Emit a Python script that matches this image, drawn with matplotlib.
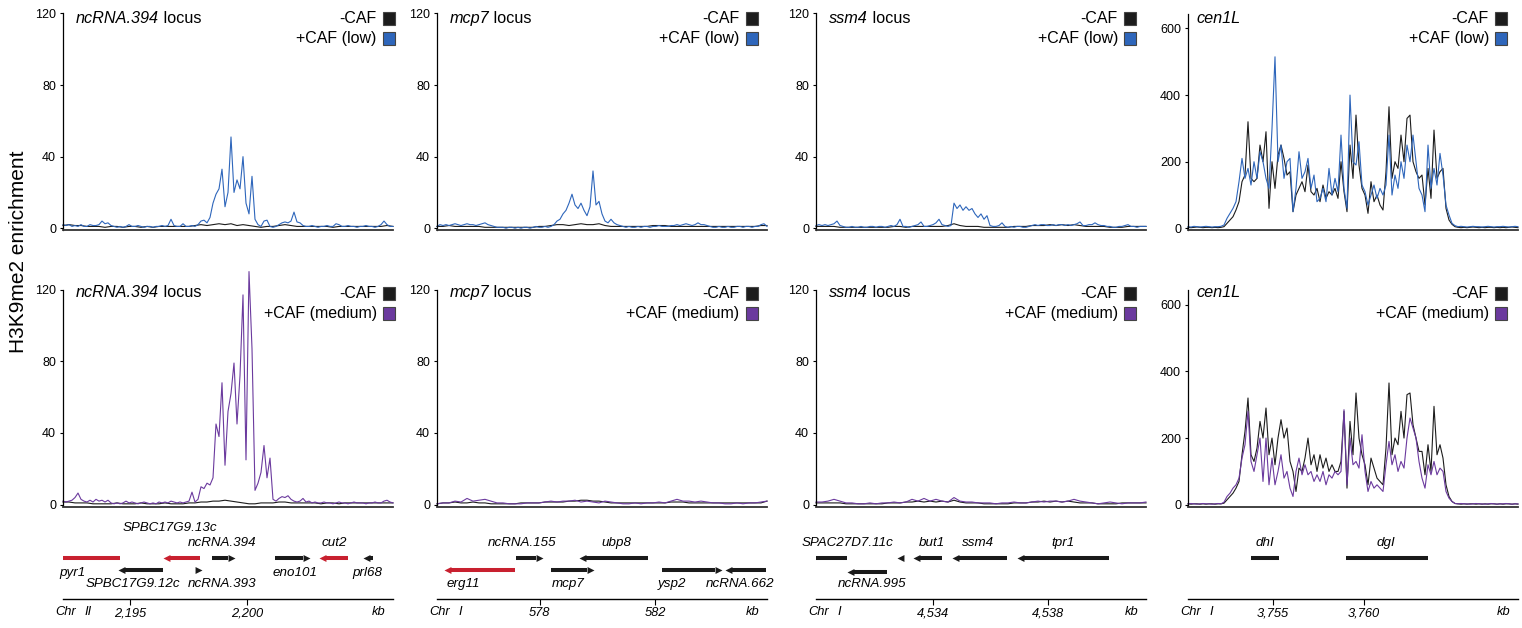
import numpy as np
from matplotlib import pyplot as plt
from matplotlib.patches import Rectangle

plt.rcParams['font.family'] = ['Liberation Sans', 'DejaVu Sans']

# genomic windows shown in each column (kb)
locus_names = ['ncRNA.394', 'mcp7', 'ssm4', 'cen1L']
chromosomes = ['II', 'I', 'I', 'I']
window_start = [2192.15, 574.45, 4529.92, 3750.36]
window_end = [2206.21, 585.86, 4541.40, 3768.46]
kb_ticks = [[2195, 2200], [578, 582], [4534, 4538], [3755, 3760]]
kb_tick_labels = [['2,195', '2,200'], ['578', '582'], ['4,534', '4,538'], ['3,755', '3,760']]
conditions = ['+CAF (low)', '+CAF (medium)']

# H3K9me2 enrichment, samples evenly spaced across each window
# --- top row: -CAF vs +CAF (low)
ctrl_low_ncrna394 = [1.5, 2, 1.5, 1.5, 1, 1, 1, 0.5, 1, 1,
                     0.5, 1, 1, 0.5, 1, 0.5, 1, 1, 1, 1,
                     1, 1, 1.5, 2, 1.5, 2, 2.5, 2, 2.5, 1.5,
                     2, 1.5, 1, 0.5, 1, 1, 1.5, 2, 1.5, 1,
                     1, 1, 1, 1, 1, 0.5, 1, 1, 1, 1,
                     1, 1, 1, 1, 1.5, 1]
low_ncrna394 = [2, 1.5, 2, 1, 1.5, 1, 2, 1, 1, 2,
                1.5, 1.5, 2, 4, 2.5, 3, 1.5, 1, 0.5, 1,
                0.5, 1, 2, 1, 1, 1.5, 1, 0.5, 1, 1,
                0.5, 1, 1, 1.5, 1, 1.5, 5, 1.5, 1, 1,
                2.5, 1, 1, 1.5, 1, 2, 4, 4.5, 3, 6,
                14, 19, 22, 33, 12, 20, 51, 20, 27, 22,
                40, 14, 8, 29, 5, 2, 1, 4, 4.5, 1,
                0.5, 1, 2, 3, 3.5, 3, 4, 9, 3.5, 3,
                1.5, 1, 1, 1.5, 1, 0.5, 1, 1, 1.5, 1,
                1, 2.5, 2, 1, 1, 1.5, 1, 1, 0.5, 1,
                1, 1.5, 1, 1, 0.5, 1, 2, 4, 2, 1, 1]
ctrl_low_mcp7 = [1, 1, 1.5, 1, 1, 1, 1, 1, 0.5, 0.5,
                 0.5, 0.5, 0.5, 0.5, 0.5, 0.5, 0.5, 1, 1, 1.5,
                 2, 2, 1.5, 2, 2.5, 2, 2, 2.5, 1.5, 1,
                 1, 1, 1, 1, 1, 1, 1.5, 1.5, 1.5, 1,
                 1, 1, 1, 1, 1, 1, 1, 1, 1, 1,
                 1, 1, 1, 1, 1.5, 1.5]
low_mcp7 = [1, 2, 1.5, 2, 1.5, 2, 2.5, 2, 1.5, 2,
            2.5, 2, 2, 1.5, 2, 2.5, 3, 2, 1.5, 1,
            0.5, 0.5, 0.5, 0, 0.5, 0.5, 0, 0.5, 0, 0.5,
            0.5, 0, 0.5, 1, 0.5, 0.5, 1, 0.5, 1, 2,
            4, 5, 8, 10, 14, 19, 13, 11, 14, 10,
            7, 12, 32, 13, 15, 8, 4, 3, 5, 3,
            2, 1.5, 1, 0.5, 1, 0.5, 0.5, 1, 0.5, 1,
            1, 0.5, 1, 1, 1.5, 1, 1, 1, 1.5, 1.5,
            2, 1.5, 2, 2.5, 2, 1.5, 2, 3, 2, 2,
            1.5, 1, 0.5, 0.5, 1, 0.5, 0.5, 1, 0.5, 0.5,
            1, 1, 0.5, 1, 1, 0.5, 1, 1, 2, 2.5, 1]
ctrl_low_ssm4 = [1, 1, 1, 1, 0.5, 0.5, 0.5, 0.5, 0.5, 0.5,
                 0.5, 0.5, 0.5, 1, 1, 0.5, 1, 1, 1, 1,
                 1, 1, 1.5, 2.5, 1.5, 1, 1, 1, 0.5, 0.5,
                 0.5, 0.5, 0.5, 1, 1, 1, 1.5, 1.5, 1.5, 2,
                 1.5, 2, 1.5, 2, 1.5, 1, 1, 1, 1, 0.5,
                 0.5, 0.5, 1, 1, 1, 1]
low_ssm4 = [1.5, 2, 1.5, 2, 1.5, 2, 2.5, 4, 1.5, 1,
            0.5, 0.5, 1, 0.5, 0.5, 1, 0.5, 0.5, 1, 1,
            0.5, 1, 1, 0.5, 1, 1.5, 1, 2, 5, 1,
            1, 0.5, 1, 1.5, 2, 3.5, 1, 1, 1.5, 2,
            3, 5, 2, 1.5, 1, 1.5, 14, 11, 13, 10,
            12, 10, 11, 8, 6, 8, 5, 7, 1.5, 1,
            1, 1.5, 3, 1, 0.5, 1, 0.5, 1, 1, 0.5,
            0.5, 1, 1.5, 2, 1.5, 2, 2, 1.5, 1.5, 2,
            1.5, 2, 2, 1.5, 2, 1.5, 2, 2.5, 3.5, 1.5,
            1.5, 2, 2, 3, 2, 1.5, 1.5, 1, 1, 0.5,
            0.5, 1, 1, 1.5, 2, 1, 1, 0.5, 1, 1, 1]
ctrl_low_cen1l = [3, 2, 3, 4, 3, 2, 3, 3, 2, 3,
                  2, 3, 5, 15, 25, 35, 55, 80, 140, 160,
                  320, 150, 140, 150, 250, 200, 290, 60, 200, 120,
                  220, 250, 210, 160, 170, 50, 100, 120, 140, 110,
                  190, 110, 100, 120, 80, 130, 90, 110, 100, 120,
                  90, 200, 110, 50, 250, 150, 340, 190, 120, 100,
                  45, 140, 80, 100, 70, 55, 170, 365, 150, 200,
                  180, 280, 200, 330, 340, 200, 170, 150, 160, 70,
                  180, 90, 295, 150, 170, 180, 60, 25, 12, 5,
                  3, 2, 3, 2, 3, 4, 3, 2, 3, 2,
                  3, 3, 2, 3, 2, 3, 2, 3, 4, 3, 2]
low_cen1l = [5, 4, 6, 5, 4, 5, 6, 5, 4, 5,
             5, 6, 10, 30, 45, 60, 80, 140, 210, 150,
             180, 130, 200, 150, 230, 200, 150, 120, 300, 515,
             200, 250, 150, 200, 210, 50, 120, 230, 150, 170,
             210, 120, 160, 80, 90, 120, 80, 180, 100, 150,
             110, 280, 120, 60, 400, 200, 190, 260, 130, 110,
             70, 100, 130, 90, 120, 100, 130, 280, 100, 160,
             120, 200, 150, 250, 200, 280, 200, 120, 100, 50,
             250, 120, 180, 130, 225, 160, 70, 40, 15, 8,
             5, 6, 5, 4, 5, 6, 5, 5, 4, 5,
             6, 5, 4, 5, 5, 6, 5, 4, 5, 6, 5]

# --- bottom row: -CAF vs +CAF (medium)
ctrl_med_ncrna394 = [1.5, 1.5, 1, 1, 1, 0.5, 0.5, 0.5, 0.5, 1,
                     0.5, 0.5, 0.5, 1, 0.5, 0.5, 0.5, 1, 0.5, 0.5,
                     0.5, 1, 1, 1.5, 1.5, 2, 2, 2.5, 2, 1.5,
                     1, 0.5, 0.5, 1, 1, 1, 1.5, 1.5, 1, 1,
                     1, 1, 1, 0.5, 1, 1, 0.5, 1, 1, 1,
                     1, 1, 1, 1, 1, 1]
med_ncrna394 = [2, 1.5, 2, 2.5, 4, 6.5, 3, 2, 1.5, 2.5,
                1.5, 3, 2, 2.5, 1.5, 2.5, 1, 0.5, 1, 0.5,
                1, 2, 1, 1.5, 1, 0.5, 1, 1.5, 1, 0.5,
                1, 0.5, 1.5, 1, 1.5, 1, 2, 1.5, 1, 1.5,
                1, 1.5, 2, 7, 1.5, 3, 10, 9, 12, 11,
                15, 45, 38, 68, 22, 52, 62, 79, 45, 72,
                117, 25, 130, 87, 8, 12, 18, 33, 15, 26,
                3, 2, 3.5, 4.5, 4, 5, 3, 2, 1.5, 2,
                3.5, 1.5, 2, 1, 1.5, 1, 1, 1.5, 1, 1,
                0.5, 1, 1.5, 1, 1, 0.5, 1, 1.5, 1, 1,
                1, 0.5, 1, 1, 1.5, 1, 1, 2, 2.5, 1.5, 1]
ctrl_med_mcp7 = [0.5, 1, 1, 1.5, 1, 1, 1.5, 1, 1, 0.5,
                 0.5, 0.5, 0.5, 0.5, 1, 1, 1, 1, 1.5, 1.5,
                 1.5, 1.5, 2, 2, 2.5, 2.5, 2, 2, 1.5, 1,
                 1, 1, 1, 1, 1, 1, 1, 1, 1, 1.5,
                 1.5, 1.5, 1, 1, 1, 1, 1, 1, 1, 1,
                 1, 1, 1, 1, 1, 2]
med_mcp7 = [0.5, 1, 1, 2, 1.5, 3.5, 2, 2.5, 3, 2,
            1, 1, 0.5, 0.5, 0.5, 1, 1, 1, 1.5, 2,
            1.5, 2, 2, 2.5, 1.5, 2, 1.5, 1, 2, 1.5,
            1, 0.5, 0.5, 1, 0.5, 1, 1, 1.5, 1, 2,
            3, 2, 2, 1.5, 2, 1.5, 1, 1, 0.5, 0.5,
            1, 0.5, 1, 1, 1.5, 2]
ctrl_med_ssm4 = [1, 1, 1, 1, 1, 0.5, 0.5, 0.5, 0.5, 0.5,
                 0.5, 0.5, 1, 1, 1, 1.5, 1.5, 2, 1.5, 2,
                 1.5, 2, 1.5, 2.5, 1.5, 1, 1, 1, 0.5, 0.5,
                 0.5, 0.5, 0.5, 1, 1, 1, 1.5, 1.5, 2, 1.5,
                 2, 1.5, 2, 1.5, 1, 1, 1, 0.5, 0.5, 0.5,
                 0.5, 1, 1, 1, 1, 1]
med_ssm4 = [1.5, 1.5, 2, 3, 2, 1, 1, 0.5, 0.5, 1,
            0.5, 1, 1, 1.5, 1, 1.5, 3, 2, 3.5, 2,
            3, 2, 1.5, 4, 2, 1.5, 1.5, 1, 1, 1,
            0.5, 1, 1, 1.5, 1, 1, 1.5, 2, 1.5, 2,
            2, 1.5, 2, 3, 2, 1.5, 1, 0.5, 1, 1.5,
            1, 0.5, 1, 1, 1, 1.5]
ctrl_med_cen1l = [3, 2, 3, 3, 2, 3, 2, 3, 3, 2,
                  3, 3, 5, 15, 25, 35, 50, 70, 150, 220,
                  320, 150, 130, 170, 250, 200, 290, 150, 200, 120,
                  200, 255, 200, 230, 130, 100, 40, 110, 100, 140,
                  200, 120, 150, 100, 150, 110, 140, 100, 120, 100,
                  100, 130, 280, 50, 250, 150, 335, 200, 150, 120,
                  60, 140, 110, 80, 70, 60, 170, 365, 150, 200,
                  180, 280, 200, 330, 335, 240, 200, 160, 160, 90,
                  180, 100, 295, 150, 180, 140, 60, 25, 10, 4,
                  3, 2, 3, 2, 3, 3, 2, 3, 2, 3,
                  2, 3, 3, 2, 3, 2, 3, 3, 2, 3, 2]
med_cen1l = [3, 4, 3, 2, 3, 4, 3, 3, 2, 3,
             4, 3, 8, 25, 35, 50, 60, 80, 140, 180,
             280, 130, 100, 150, 200, 70, 200, 60, 140, 60,
             100, 150, 80, 100, 50, 25, 100, 140, 90, 120,
             90, 100, 70, 90, 70, 100, 60, 90, 80, 100,
             90, 100, 285, 60, 200, 120, 130, 110, 210, 100,
             40, 70, 50, 60, 50, 40, 120, 190, 120, 150,
             100, 130, 110, 200, 260, 230, 200, 130, 80, 50,
             120, 90, 130, 90, 110, 100, 40, 20, 10, 4,
             3, 4, 3, 3, 2, 3, 4, 3, 3, 2,
             3, 4, 3, 2, 3, 3, 4, 3, 2, 3, 3]

signal = [
    [(ctrl_low_ncrna394, low_ncrna394), (ctrl_low_mcp7, low_mcp7),
     (ctrl_low_ssm4, low_ssm4), (ctrl_low_cen1l, low_cen1l)],
    [(ctrl_med_ncrna394, med_ncrna394), (ctrl_med_mcp7, med_mcp7),
     (ctrl_med_ssm4, med_ssm4), (ctrl_med_cen1l, med_cen1l)],
]

# gene annotation (kb), strand: +1 right, -1 left, 0 no arrow
gene_names = [
    ['pyr1', 'SPBC17G9.12c', 'SPBC17G9.13c', 'ncRNA.393', 'ncRNA.394', 'eno101', 'cut2', 'prl68'],
    ['erg11', 'ncRNA.155', 'mcp7', 'ubp8', 'ysp2', 'ncRNA.662'],
    ['SPAC27D7.11c', 'ncRNA.995', '', 'but1', 'ssm4', 'tpr1'],
    ['dhI', 'dgI'],
]
gene_start = [
    [2192.15, 2194.49, 2196.41, 2197.77, 2198.49, 2201.18, 2203.05, 2204.92],
    [574.68, 577.19, 578.39, 579.35, 582.23, 584.42],
    [4529.92, 4531.01, 4532.73, 4533.28, 4534.64, 4536.90],
    [3753.81, 3759.02],
]
gene_end = [
    [2194.57, 2196.41, 2197.98, 2198.07, 2199.47, 2202.67, 2204.29, 2205.35],
    [577.16, 578.12, 579.89, 581.75, 584.30, 585.84],
    [4530.99, 4532.40, 4532.90, 4534.29, 4536.57, 4540.12],
    [3755.37, 3763.51],
]
gene_strand = [
    [0, -1, -1, 1, 1, 1, -1, -1],
    [-1, 1, 1, -1, 1, -1],
    [0, -1, -1, -1, -1, -1],
    [0, 0],
]
gene_highlight = [
    [True, False, True, False, False, False, True, False],
    [True, False, False, False, False, False],
    [False] * 6,
    [False, False],
]

# layout of the gene tracks (y in px above the chromosome line)
gene_row = [
    [41, 29, 41, 29, 41, 41, 41, 41],
    [29, 41, 29, 41, 29, 29],
    [41, 27, 41, 41, 41, 41],
    [41, 41],
]
label_x = [
    [2192.55, 2195.13, 2196.70, 2198.92, 2198.92, 2202.03, 2203.73, 2205.10],
    [575.36, 577.39, 579.00, 580.67, 582.58, 584.94],
    [4531.03, 4531.86, 0, 4533.94, 4535.57, 4538.52],
    [3754.57, 3761.22],
]
label_y = [
    [26, 15, 71, 15, 56, 26, 56, 26],
    [15, 56, 15, 56, 15, 15],
    [56, 15, 0, 56, 56, 56],
    [56, 56],
]

W, H = 1522, 628
col_x = [63, 437, 816, 1188]
col_w = 330
row_top = [13.5, 289.5]
row_h = [216.5, 217]
legend_right = [1.006, 0.972, 0.970, 0.967]
ctrl_color = '#1c1c1c'
treat_color = ['#2e66bb', '#6b3a9e']
red = '#c8202f'

fig = plt.figure(figsize=(W / 100, H / 100), dpi=100)

for r in range(2):
    for c in range(4):
        ax = fig.add_axes([col_x[c] / W, 1 - (row_top[r] + row_h[r]) / H, col_w / W, row_h[r] / H])
        ctrl, treat = signal[r][c]
        ax.plot(np.linspace(window_start[c], window_end[c], len(ctrl)), ctrl,
                color=ctrl_color, lw=0.8, clip_on=False)
        ax.plot(np.linspace(window_start[c], window_end[c], len(treat)), treat,
                color=treat_color[r], lw=0.8, clip_on=False)
        ax.set_xlim(window_start[c], window_end[c])
        if c == 3:
            ax.set_ylim(-5, 645)
            ax.set_yticks([0, 200, 400, 600])
        else:
            ax.set_ylim(-1, 120)
            ax.set_yticks([0, 40, 80, 120])
        ax.set_xticks([])
        for s in ['top', 'right']:
            ax.spines[s].set_visible(False)
        ax.spines['left'].set_linewidth(0.9)
        ax.spines['bottom'].set_linewidth(1.3)
        ax.spines['bottom'].set_color('#333333')
        ax.tick_params(axis='y', length=2, width=0.8, pad=3, labelsize=9)

        # title
        t = ax.text(0.027 if c == 3 else 0.039, 0.976 if r == 0 else 0.987,
                    locus_names[c], style='italic', fontsize=11.7,
                    transform=ax.transAxes, va='center')
        if c < 3:
            ax.annotate(' locus', xy=(1, 0), xycoords=t, va='bottom', fontsize=11.7)

        # legend
        for k, (lab, col) in enumerate([('-CAF', ctrl_color), (conditions[r], treat_color[r])]):
            yc = (0.977 if r == 0 else 0.982) - k * 0.094
            ax.add_patch(Rectangle((legend_right[c] - 0.036, yc - 0.03), 0.036, 0.06,
                                   transform=ax.transAxes, facecolor=col,
                                   edgecolor='#444444', lw=0.8, clip_on=False))
            ax.text(legend_right[c] - 0.055, yc, lab, ha='right', va='center',
                    fontsize=11.5, transform=ax.transAxes)

# gene tracks
for c in range(4):
    ax = fig.add_axes([col_x[c] / W, 1 - 599 / H, col_w / W, 84 / H])
    ax.set_xlim(window_start[c], window_end[c])
    ax.set_ylim(0, 84)
    kb_per_px = (window_end[c] - window_start[c]) / col_w
    head = 7 * kb_per_px
    for i, name in enumerate(gene_names[c]):
        col = red if gene_highlight[c][i] else '#1a1a1a'
        s, e, st, y = gene_start[c][i], gene_end[c][i], gene_strand[c][i], gene_row[c][i]
        x0, x1 = s, e
        if st == 1:
            x1 = e - head
        elif st == -1:
            x0 = s + head
        if x1 > x0:
            ax.plot([x0, x1], [y, y], color=col, lw=2.9, solid_capstyle='butt')
        if st == 1:
            ax.plot(e, y, marker=[(0, 0), (-1, 0.5), (-1, -0.5)], ms=10, mew=0, color=col)
        elif st == -1:
            ax.plot(s, y, marker=[(0, 0), (1, 0.5), (1, -0.5)], ms=10, mew=0, color=col)
        if name:
            ax.text(label_x[c][i], label_y[c][i], name, style='italic', fontsize=9.6,
                    ha='center', va='center')
    for s in ['top', 'right', 'left']:
        ax.spines[s].set_visible(False)
    ax.spines['bottom'].set_linewidth(1)
    ax.set_yticks([])
    ax.set_xticks(kb_ticks[c])
    ax.set_xticklabels(kb_tick_labels[c], style='italic', fontsize=9.3)
    ax.tick_params(axis='x', length=4, width=0.8, pad=2)
    ax.text(-0.024, -0.15, 'Chr', style='italic', fontsize=9.3, transform=ax.transAxes,
            ha='left', va='center')
    ax.text(0.065, -0.15, chromosomes[c], style='italic', fontsize=9.3, transform=ax.transAxes,
            ha='left', va='center')
    ax.text(0.955, -0.15, 'kb', style='italic', fontsize=9.3, transform=ax.transAxes,
            ha='center', va='center')

fig.text(19 / W, 1 - 252 / H, 'H3K9me2 enrichment', rotation=90, fontsize=15,
         ha='center', va='center')

fig.savefig('out.png', dpi=100)
